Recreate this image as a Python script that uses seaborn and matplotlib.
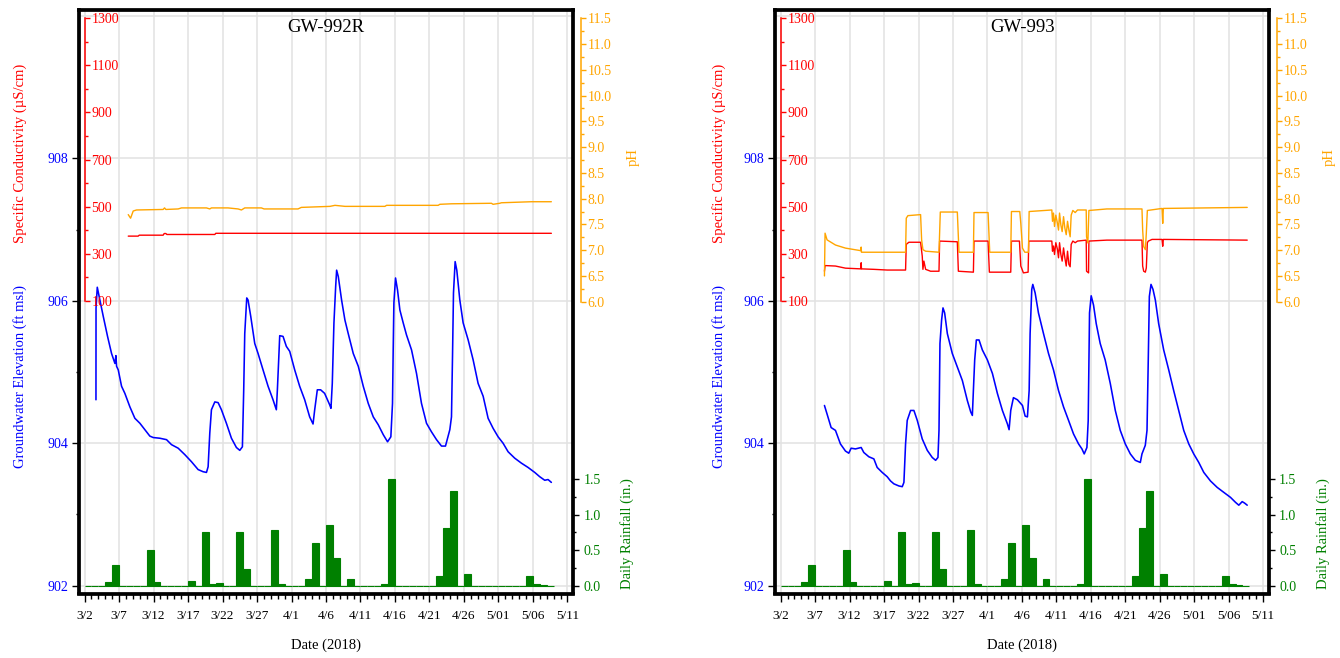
import numpy as np
import pandas as pd
import matplotlib
matplotlib.use("Agg")
import matplotlib.pyplot as plt
import matplotlib.dates as mdates
import seaborn as sns

sns.set_style("white")
plt.rcParams["font.family"] = ["Liberation Serif", "DejaVu Serif"]

START = pd.Timestamp("2018-03-02")

# ---------------------------------------------------------------- data
tick_labels = ["3/2", "3/7", "3/12", "3/17", "3/22", "3/27", "4/1", "4/6",
               "4/11", "4/16", "4/21", "4/26", "5/01", "5/06", "5/11"]

# daily rainfall (in.), one value per day starting 3/2
rain_in = [0, 0, 0, 0.05, 0.29, 0, 0, 0, 0, 0.50,
           0.05, 0, 0, 0, 0, 0.06, 0, 0.76, 0.02, 0.04,
           0, 0, 0.75, 0.23, 0, 0, 0, 0.78, 0.02, 0,
           0, 0, 0.09, 0.60, 0, 0.85, 0.39, 0, 0.10, 0,
           0, 0, 0, 0.03, 1.51, 0, 0, 0, 0, 0,
           0, 0.13, 0.82, 1.34, 0, 0.16, 0, 0, 0, 0,
           0, 0, 0, 0, 0.14, 0.02, 0.01, 0]

# times are in days after 2018-03-02 00:00
# --- GW-992R
gw992r_elev_day = [1.65, 1.66, 1.84, 2.22, 2.71, 3.33, 3.91, 4.40, 4.54, 4.64,
                   4.88, 5.36, 5.84, 6.57, 7.29, 8.02, 8.74, 9.46, 9.95, 10.91,
                   11.88, 12.60, 13.57, 14.53, 15.50, 16.46, 17.18, 17.67, 17.91, 18.15,
                   18.39, 18.88, 19.36, 19.84, 20.56, 21.29, 22.01, 22.50, 22.88, 23.07,
                   23.22, 23.51, 23.70, 24.09, 24.67, 25.15, 25.87, 26.60, 27.32, 27.80,
                   27.95, 28.14, 28.29, 28.77, 29.25, 29.74, 30.46, 31.18, 31.91, 32.63,
                   33.12, 33.36, 33.74, 34.22, 34.80, 35.53, 35.72, 35.91, 36.15, 36.40,
                   36.54, 36.78, 37.26, 37.74, 38.22, 38.95, 39.68, 40.40, 41.12, 41.85,
                   42.57, 43.30, 43.92, 44.40, 44.64, 44.74, 44.84, 45.08, 45.37, 45.71,
                   46.19, 46.67, 47.40, 48.12, 48.84, 49.57, 50.29, 51.02, 51.74, 52.32,
                   52.95, 53.19, 53.34, 53.48, 53.72, 53.96, 54.40, 54.88, 55.61, 56.33,
                   57.05, 57.78, 58.50, 59.22, 59.95, 60.67, 61.40, 62.36, 63.33, 64.29,
                   65.26, 65.98, 66.71, 67.19, 67.67]
gw992r_elev_ft = [904.61, 905.90, 906.19, 906.01, 905.78, 905.50, 905.26, 905.12, 905.23, 905.08,
                  905.03, 904.80, 904.70, 904.51, 904.35, 904.28, 904.19, 904.10, 904.08, 904.07,
                  904.05, 903.98, 903.93, 903.84, 903.74, 903.63, 903.60, 903.59, 903.67, 904.14,
                  904.47, 904.58, 904.57, 904.47, 904.28, 904.07, 903.94, 903.90, 903.95, 904.75,
                  905.54, 906.04, 906.01, 905.78, 905.40, 905.26, 905.03, 904.80, 904.61, 904.47,
                  904.75, 905.17, 905.51, 905.50, 905.36, 905.29, 905.03, 904.80, 904.61, 904.37,
                  904.27, 904.47, 904.75, 904.75, 904.70, 904.54, 904.49, 904.84, 905.69, 906.20,
                  906.43, 906.34, 906.01, 905.73, 905.54, 905.26, 905.08, 904.80, 904.56, 904.37,
                  904.26, 904.12, 904.02, 904.09, 904.56, 905.31, 905.97, 906.32, 906.15, 905.87,
                  905.69, 905.52, 905.31, 904.98, 904.56, 904.28, 904.16, 904.05, 903.96, 903.96,
                  904.19, 904.37, 905.22, 906.11, 906.55, 906.43, 906.01, 905.69, 905.45, 905.17,
                  904.84, 904.66, 904.35, 904.21, 904.09, 904.00, 903.88, 903.79, 903.72, 903.66,
                  903.59, 903.53, 903.48, 903.49, 903.45]
gw992r_sc_day = [6.33, 7.77, 7.92, 11.39, 11.54, 11.78, 11.93, 18.88, 19.02, 67.67]
gw992r_sc = [375, 375, 379, 379, 386, 386, 382, 382, 387, 387]
gw992r_ph_day = [6.33, 6.67, 7.05, 7.53, 11.39, 11.59, 11.78, 13.57, 14.05, 17.67,
                 18.15, 18.39, 20.80, 22.25, 22.74, 23.22, 25.63, 26.02, 30.94, 31.42,
                 35.57, 36.30, 37.75, 43.54, 43.78, 51.26, 51.50, 53.19, 58.98, 59.22,
                 60.19, 60.43, 64.77, 67.67]
gw992r_ph = [7.69, 7.62, 7.76, 7.78, 7.79, 7.82, 7.79, 7.80, 7.82, 7.82,
             7.80, 7.82, 7.82, 7.80, 7.78, 7.82, 7.82, 7.80, 7.80, 7.83,
             7.85, 7.87, 7.85, 7.85, 7.87, 7.87, 7.89, 7.90, 7.91, 7.89,
             7.91, 7.92, 7.94, 7.94]

# --- GW-993
gw993_elev_day = [6.35, 6.73, 7.32, 7.95, 8.67, 9.40, 9.88, 10.22, 10.85, 11.68,
                  12.06, 12.79, 13.52, 14.00, 14.73, 15.45, 15.94, 16.42, 17.15, 17.64,
                  17.88, 18.12, 18.36, 18.85, 19.33, 19.82, 20.54, 21.27, 21.99, 22.48,
                  22.82, 22.97, 23.11, 23.35, 23.55, 23.79, 24.18, 24.90, 25.63, 26.36,
                  27.08, 27.57, 27.81, 27.96, 28.15, 28.39, 28.78, 29.26, 29.99, 30.72,
                  31.44, 32.17, 32.90, 33.14, 33.38, 33.77, 34.35, 35.08, 35.47, 35.80,
                  36.05, 36.19, 36.43, 36.58, 36.92, 37.40, 38.13, 38.86, 39.58, 40.31,
                  41.04, 41.77, 42.49, 43.22, 43.71, 44.04, 44.43, 44.62, 44.72, 44.81,
                  45.05, 45.39, 45.78, 46.36, 47.08, 47.82, 48.55, 49.27, 50.00, 50.73,
                  51.45, 52.18, 52.42, 52.90, 53.15, 53.34, 53.49, 53.73, 54.02, 54.36,
                  54.84, 55.57, 56.30, 57.02, 57.75, 58.48, 59.21, 59.93, 60.66, 61.39,
                  62.36, 63.33, 64.29, 65.26, 65.99, 66.47, 66.96, 67.30, 67.69]
gw993_elev_ft = [904.53, 904.41, 904.22, 904.18, 903.99, 903.89, 903.86, 903.93, 903.92, 903.94,
                 903.87, 903.81, 903.78, 903.66, 903.59, 903.53, 903.47, 903.43, 903.40, 903.39,
                 903.45, 903.99, 904.32, 904.46, 904.46, 904.32, 904.06, 903.90, 903.80, 903.76,
                 903.80, 904.18, 905.40, 905.73, 905.90, 905.83, 905.54, 905.26, 905.07, 904.88,
                 904.60, 904.44, 904.39, 904.74, 905.17, 905.45, 905.45, 905.31, 905.17, 904.98,
                 904.70, 904.46, 904.27, 904.19, 904.46, 904.64, 904.61, 904.53, 904.38, 904.37,
                 904.74, 905.54, 906.16, 906.23, 906.11, 905.83, 905.54, 905.26, 905.03, 904.74,
                 904.51, 904.32, 904.13, 903.99, 903.92, 903.85, 903.94, 904.32, 905.12, 905.83,
                 906.07, 905.94, 905.68, 905.40, 905.17, 904.84, 904.46, 904.18, 903.99, 903.85,
                 903.76, 903.73, 903.85, 903.97, 904.18, 905.21, 906.06, 906.23, 906.16, 906.01,
                 905.68, 905.31, 905.03, 904.74, 904.46, 904.18, 903.99, 903.85, 903.73, 903.59,
                 903.47, 903.38, 903.31, 903.24, 903.17, 903.13, 903.18, 903.16, 903.13]
gw993_sc_day = [6.35, 6.44, 7.95, 9.40, 11.63, 11.68, 11.72, 13.52, 15.46, 18.12,
                18.22, 18.60, 20.30, 20.54, 20.64, 20.78, 21.03, 21.75, 22.97, 23.06,
                25.63, 25.78, 27.96, 28.05, 30.09, 30.28, 33.38, 33.48, 34.64, 34.84,
                35.22, 35.90, 35.99, 39.34, 39.44, 39.58, 39.73, 39.92, 40.16, 40.31,
                40.46, 40.65, 40.84, 41.04, 41.23, 41.43, 41.62, 41.81, 42.00, 42.15,
                42.39, 42.73, 43.07, 44.33, 44.38, 44.67, 44.72, 47.33, 52.42, 52.52,
                52.67, 52.91, 53.05, 53.20, 53.34, 53.88, 55.33, 55.43, 55.52, 67.69]
gw993_sc = [226, 250, 248, 239, 236, 262, 236, 234, 231, 231,
            340, 349, 349, 290, 234, 269, 234, 226, 226, 354,
            351, 226, 222, 354, 354, 222, 222, 354, 354, 248,
            219, 222, 354, 354, 311, 333, 297, 347, 318, 283,
            347, 297, 269, 325, 283, 248, 311, 255, 245, 340,
            354, 347, 354, 358, 226, 219, 354, 358, 358, 248,
            226, 222, 240, 347, 354, 361, 361, 332, 361, 358]
gw993_ph_day = [6.35, 6.44, 6.73, 7.95, 9.40, 11.63, 11.68, 11.72, 18.12, 18.22,
                18.46, 20.30, 20.45, 20.64, 21.03, 22.97, 23.16, 25.63, 25.87, 27.96,
                28.05, 30.09, 30.33, 33.38, 33.48, 34.69, 34.84, 35.08, 35.42, 35.95,
                36.05, 39.34, 39.44, 39.58, 39.73, 39.92, 40.16, 40.31, 40.46, 40.65,
                40.84, 41.04, 41.23, 41.43, 41.62, 41.81, 42.00, 42.15, 42.39, 42.73,
                43.07, 44.33, 44.38, 44.57, 44.72, 47.33, 52.42, 52.52, 52.67, 52.91,
                53.05, 53.20, 55.33, 55.43, 55.52, 67.69]
gw993_ph = [6.50, 7.33, 7.20, 7.10, 7.04, 6.99, 7.06, 6.96, 6.96, 7.62,
            7.67, 7.69, 7.20, 7.01, 6.98, 6.96, 7.74, 7.74, 6.96, 6.96,
            7.73, 7.73, 6.96, 6.96, 7.75, 7.75, 7.52, 7.04, 6.96, 6.96,
            7.75, 7.78, 7.56, 7.72, 7.46, 7.68, 7.52, 7.39, 7.72, 7.49,
            7.36, 7.65, 7.43, 7.30, 7.56, 7.39, 7.26, 7.68, 7.77, 7.73,
            7.78, 7.78, 7.26, 7.14, 7.77, 7.80, 7.80, 7.39, 7.07, 7.01,
            7.33, 7.77, 7.81, 7.52, 7.81, 7.83]

# ---------------------------------------------------------------- style
BLUE = "#0000FF"
RED = "#FF0000"
ORANGE = "#FFA500"
GREEN = "#008000"
GRID = "#E2E2E2"
FS_TICK = 10
FS_LABEL = 10.5


def to_dates(days):
    return START + pd.to_timedelta(np.asarray(days, dtype=float), unit="D")


def draw_panel(fig, rect, name, elev_day, elev_ft, sc_day, sc_val, ph_day, ph_val,
               label_x, right_x):
    # groundwater elevation (main axes, carries the frame and grid)
    ax = fig.add_axes(rect)
    sns.lineplot(x=to_dates(elev_day), y=elev_ft, ax=ax, color=BLUE,
                 linewidth=1.15, estimator=None, sort=False, zorder=3)
    x_lim = to_dates([-0.78, 70.85])
    ax.set_xlim(x_lim[0], x_lim[1])
    ax.set_ylim(901.89, 910.08)
    ax.set_xlabel("")
    ax.set_ylabel("")

    ax.set_xticks(to_dates(range(0, 71, 5)))
    ax.set_xticklabels(tick_labels)
    ax.xaxis.set_minor_locator(mdates.DayLocator())
    ax.set_yticks([902, 904, 906, 908])
    ax.set_yticklabels(["902", "904", "906", "908"])
    ax.set_yticks([903, 905, 907], minor=True)

    ax.grid(True, which="major", color=GRID, linewidth=1.1, zorder=0)
    ax.axhline(910, color=GRID, linewidth=1.1, zorder=0)
    ax.set_axisbelow(True)

    ax.tick_params(axis="x", which="major", bottom=True, direction="out",
                   length=5.5, width=1.0, color="black", labelcolor="black",
                   labelsize=9.5, pad=6.5)
    ax.tick_params(axis="x", which="minor", bottom=True, direction="out",
                   length=3.5, width=1.0, color="black")
    ax.tick_params(axis="y", which="major", left=True, right=False, direction="out",
                   length=4.7, width=1.0, color="black", labelcolor=BLUE,
                   labelsize=FS_TICK, pad=3.2)
    ax.tick_params(axis="y", which="minor", left=True, right=False, direction="out",
                   length=2.5, width=1.0, color="black")
    for sp in ax.spines.values():
        sp.set_visible(True)
        sp.set_color("black")
        sp.set_linewidth(2.7)

    ax.text(0.5, 0.971, name, transform=ax.transAxes, ha="center", va="center",
            fontsize=13.5, color="black")

    # specific conductivity, spine drawn just inside the left frame
    ax_sc = ax.twinx()
    sns.lineplot(x=to_dates(sc_day), y=sc_val, ax=ax_sc, color=RED,
                 linewidth=1.0, estimator=None, sort=False)
    ax_sc.set_ylim(-1142, 1334)
    ax_sc.set_ylabel("")
    for s in ("top", "bottom", "left"):
        ax_sc.spines[s].set_visible(False)
    ax_sc.spines["right"].set_position(("axes", 0.012))
    ax_sc.spines["right"].set_bounds(100, 1300)
    ax_sc.spines["right"].set_color(RED)
    ax_sc.spines["right"].set_linewidth(1.1)
    ax_sc.set_yticks([100, 300, 500, 700, 900, 1100, 1300])
    ax_sc.set_yticks([200, 400, 600, 800, 1000, 1200], minor=True)
    ax_sc.tick_params(axis="y", which="major", right=True, left=False, direction="out",
                      length=3.6, width=1.0, color=RED, labelcolor=RED,
                      labelsize=FS_TICK, pad=1.0)
    ax_sc.tick_params(axis="y", which="minor", right=True, left=False, direction="out",
                      length=2.2, width=1.0, color=RED)

    # pH, spine just outside the right frame
    ax_ph = ax.twinx()
    sns.lineplot(x=to_dates(ph_day), y=ph_val, ax=ax_ph, color=ORANGE,
                 linewidth=1.0, estimator=None, sort=False)
    ax_ph.set_ylim(0.337, 11.657)
    ax_ph.set_ylabel("")
    for s in ("top", "bottom", "left"):
        ax_ph.spines[s].set_visible(False)
    ax_ph.spines["right"].set_position(("axes", 1.016))
    ax_ph.spines["right"].set_bounds(6.0, 11.5)
    ax_ph.spines["right"].set_color(ORANGE)
    ax_ph.spines["right"].set_linewidth(1.1)
    ax_ph.set_yticks(np.arange(6.0, 11.51, 0.5))
    ax_ph.set_yticklabels([f"{v:.1f}" for v in np.arange(6.0, 11.51, 0.5)])
    ax_ph.set_yticks(np.arange(6.25, 11.3, 0.5), minor=True)
    ax_ph.tick_params(axis="y", which="major", right=True, left=False, direction="out",
                      length=3.6, width=1.0, color=ORANGE, labelcolor=ORANGE,
                      labelsize=FS_TICK, pad=1.0)
    ax_ph.tick_params(axis="y", which="minor", right=True, left=False, direction="out",
                      length=2.2, width=1.0, color=ORANGE)

    # daily rainfall bars along the bottom
    ax_rn = ax.twinx()
    ax_rn.bar(to_dates(range(len(rain_in))), rain_in, width=1.0, align="edge",
              color=GREEN, edgecolor=GREEN, linewidth=0.8)
    ax_rn.set_ylim(-0.11, 8.11)
    for sp in ax_rn.spines.values():
        sp.set_visible(False)
    ax_rn.set_yticks([0.0, 0.5, 1.0, 1.5])
    ax_rn.set_yticklabels(["0.0", "0.5", "1.0", "1.5"])
    ax_rn.set_yticks([0.25, 0.75, 1.25], minor=True)
    ax_rn.tick_params(axis="y", which="major", right=True, left=False, direction="out",
                      length=4.3, width=1.0, color="black", labelcolor=GREEN,
                      labelsize=FS_TICK, pad=3.0)
    ax_rn.tick_params(axis="y", which="minor", right=True, left=False, direction="out",
                      length=2.5, width=1.0, color="black")

    # axis titles
    fig.text(label_x, 1 - 153 / 658, "Specific Conductivity (\u00b5S/cm)", color=RED,
             rotation=90, ha="center", va="center", fontsize=FS_LABEL)
    fig.text(label_x, 1 - 376 / 658, "Groundwater Elevation (ft msl)", color=BLUE,
             rotation=90, ha="center", va="center", fontsize=FS_LABEL)
    fig.text(right_x + 0.0045, 1 - 157 / 658, "pH", color=ORANGE,
             rotation=90, ha="center", va="center", fontsize=FS_LABEL)
    fig.text(right_x, 1 - 534 / 658, "Daily Rainfall (in.)", color=GREEN,
             rotation=90, ha="center", va="center", fontsize=FS_LABEL)
    fig.text(rect[0] + rect[2] / 2, 1 - 645 / 658, "Date (2018)", color="black",
             ha="center", va="center", fontsize=FS_LABEL)
    return ax


fig = plt.figure(figsize=(13.4, 6.58), dpi=100)
fig.patch.set_facecolor("white")

panel_h = (593.5 - 10.2) / 658
panel_y = 1 - 593.5 / 658
draw_panel(fig, [79.2 / 1340, panel_y, 494.1 / 1340, panel_h], "GW-992R",
           gw992r_elev_day, gw992r_elev_ft, gw992r_sc_day, gw992r_sc,
           gw992r_ph_day, gw992r_ph, 20 / 1340, 627.5 / 1340)
draw_panel(fig, [775.3 / 1340, panel_y, 493.7 / 1340, panel_h], "GW-993",
           gw993_elev_day, gw993_elev_ft, gw993_sc_day, gw993_sc,
           gw993_ph_day, gw993_ph, 719 / 1340, 1323.5 / 1340)

fig.savefig("out.png", dpi=100, facecolor="white")
